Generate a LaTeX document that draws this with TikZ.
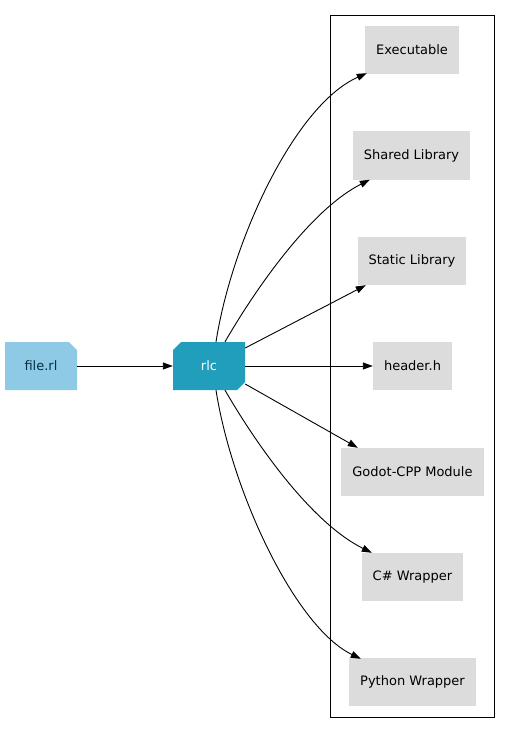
\documentclass[tikz,border=0pt]{standalone}
\usepackage{fontspec}
\setmainfont{DejaVu Sans}
\usetikzlibrary{arrows.meta,shapes.misc}
\definecolor{lblue}{HTML}{8ECAE6}
\definecolor{mblue}{HTML}{219EBC}
\definecolor{dblue}{HTML}{023047}
\definecolor{gbox}{HTML}{DCDCDC}
\begin{document}
\begin{tikzpicture}[x=1pt,y=-1pt,
  every node/.style={font=\fontsize{13}{15}\selectfont, inner sep=0pt},
  outbox/.style={rectangle, fill=gbox, minimum height=48pt},
  srcbox/.style={chamfered rectangle, chamfered rectangle corners=north east, chamfered rectangle sep=4pt, fill=lblue, text=dblue, minimum width=72pt, minimum height=48pt},
  toolbox/.style={chamfered rectangle, chamfered rectangle corners={north west,south east}, chamfered rectangle sep=4pt, fill=mblue, text=white, minimum width=72pt, minimum height=48pt},
  edge/.style={draw=black, line width=0.9pt, -{Triangle[length=10pt,width=7pt]}}]
\useasboundingbox (0,0) rectangle (511,733);
\draw[line width=0.9pt] (330.5,15.5) rectangle (494.5,717.5);
\node[srcbox] (src) at (41,366) {file.rl};
\node[toolbox] (rlc) at (209,366) {rlc};
\node[outbox, minimum width=94pt] (exe) at (412,50) {Executable};
\node[outbox, minimum width=117pt] (shl) at (411.5,155.5) {Shared Library};
\node[outbox, minimum width=108pt] (stl) at (412,261) {Static Library};
\node[outbox, minimum width=79pt] (hdr) at (412.5,366) {header.h};
\node[outbox, minimum width=143pt] (gdc) at (412.5,472) {Godot-CPP Module};
\node[outbox, minimum width=101pt] (csw) at (412.5,577) {C\# Wrapper};
\node[outbox, minimum width=127pt] (pyw) at (412.5,682) {Python Wrapper};
\draw[edge] (src.east) -- (rlc.west);
\draw[edge] ([xshift=7pt]rlc.north) .. controls (232,240) and (295,105) .. ([xshift=2pt,yshift=1pt]exe.south west);
\draw[edge] ([xshift=16pt]rlc.north) .. controls (255,290) and (310,210) .. ([xshift=17pt]shl.south west);
\draw[edge] ([yshift=18pt]rlc.east) -- ([xshift=8pt]stl.south west);
\draw[edge] (rlc.east) -- (hdr.west);
\draw[edge] ([yshift=-18pt]rlc.east) -- ([xshift=17pt]gdc.north west);
\draw[edge] ([xshift=16pt]rlc.south) .. controls (255,442) and (310,522) .. ([xshift=10pt]csw.north west);
\draw[edge] ([xshift=7pt]rlc.south) .. controls (232,492) and (295,627) .. ([xshift=12pt,yshift=-1pt]pyw.north west);
\end{tikzpicture}
\end{document}
